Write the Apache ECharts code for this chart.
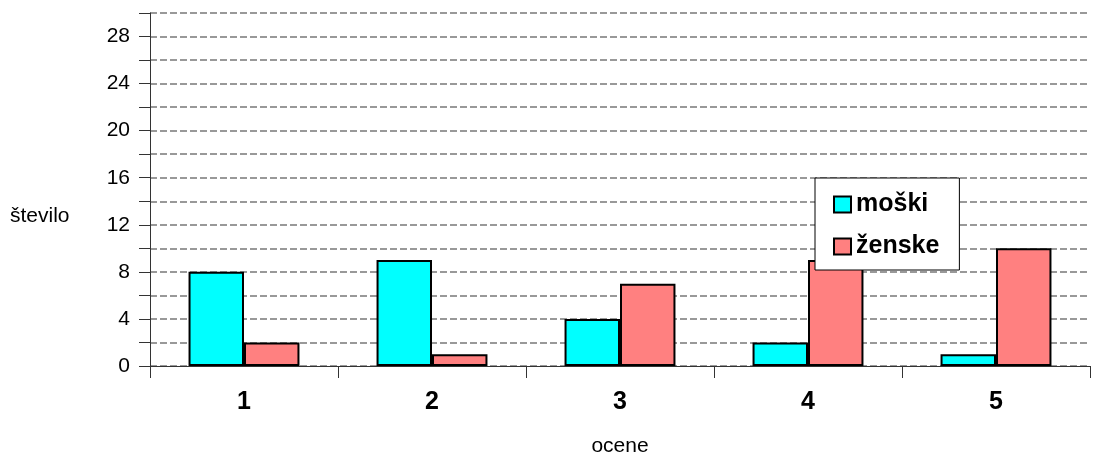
<!DOCTYPE html>
<html>
<head>
<meta charset="utf-8">
<script src="https://cdn.jsdelivr.net/npm/echarts@6/dist/echarts.min.js"></script>
<style>
html,body{margin:0;padding:0;background:#fff;overflow:hidden;}
#c{width:1101px;height:455px;}
</style>
</head>
<body>
<div id="c"></div>
<script>
var categories = ['1', '2', '3', '4', '5'];
var moski = [8, 9, 4, 2, 1];
var zenske = [2, 1, 7, 9, 10];
var seriesNames = ['moški', 'ženske'];
var yMin = 0, yMax = 30, yStep = 2, yLabelStep = 4;

var chart = echarts.init(document.getElementById('c'), null, {renderer: 'canvas'});
var font = 'Liberation Sans, Arial, sans-serif';
chart.setOption({
  animation: false,
  backgroundColor: '#fff',
  textStyle: {fontFamily: font},
  grid: {left: 150, right: 11, top: 13, bottom: 89, containLabel: false, outerBoundsMode: 'none'},
  legend: {
    orient: 'vertical',
    left: 815, top: 178,
    padding: [14, 20, 11, 18],
    itemGap: 17,
    itemWidth: 17, itemHeight: 16,
    backgroundColor: '#fff',
    borderColor: '#000', borderWidth: 1,
    icon: 'rect',
    textStyle: {fontFamily: font, fontSize: 25, fontWeight: 'bold', color: '#000', lineHeight: 25},
    data: seriesNames
  },
  graphic: [{
    type: 'text', x: 10, y: 216,
    style: {text: 'število', fontFamily: font, fontSize: 21, fill: '#000', verticalAlign: 'middle', align: 'left'}
  }],
  xAxis: {
    type: 'category',
    data: categories,
    name: 'ocene',
    nameLocation: 'middle',
    nameGap: 70,
    nameTextStyle: {fontFamily: font, fontSize: 21, color: '#000'},
    axisLine: {lineStyle: {color: '#333', width: 1}},
    axisTick: {show: true, length: 12, lineStyle: {color: '#333'}},
    axisLabel: {fontFamily: font, fontSize: 25, fontWeight: 'bold', color: '#000', margin: 24},
    splitLine: {show: false}
  },
  yAxis: {
    type: 'value',
    min: yMin, max: yMax, interval: yStep,
    axisLine: {show: true, lineStyle: {color: '#333', width: 1}},
    axisTick: {show: true, length: 11, lineStyle: {color: '#333'}},
    axisLabel: {
      fontFamily: font, fontSize: 21, color: '#000', margin: 20,
      formatter: function (v) { return (v % yLabelStep === 0 && v < yMax) ? String(v) : ''; }
    },
    splitLine: {show: true, lineStyle: {color: '#999', width: 2, type: [7, 3]}}
  },
  series: [{
    name: seriesNames[0], type: 'bar', data: moski,
    barGap: '0%', barCategoryGap: '41%',
    itemStyle: {color: '#00FFFF', borderColor: '#000', borderWidth: 2}
  }, {
    name: seriesNames[1], type: 'bar', data: zenske,
    barGap: '0%', barCategoryGap: '41%',
    itemStyle: {color: '#FF8080', borderColor: '#000', borderWidth: 2}
  }]
});
</script>
</body>
</html>
